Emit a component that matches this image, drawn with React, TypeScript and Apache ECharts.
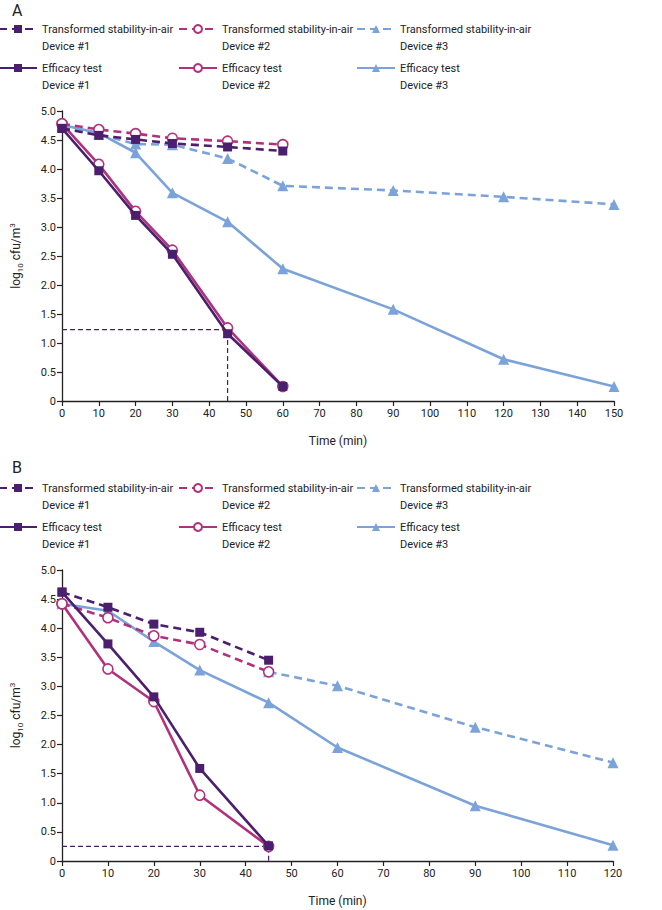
import React, { useEffect, useRef } from "react";
import * as echarts from "echarts";

// ---------- data ----------
const timeA = [0, 10, 20, 30, 45, 60, 90, 120, 150];
const stabA1 = [4.70, 4.58, 4.51, 4.44, 4.38, 4.31];
const stabA2 = [4.78, 4.68, 4.61, 4.53, 4.48, 4.42];
const stabA3 = [4.72, 4.60, 4.43, 4.42, 4.18, 3.71, 3.63, 3.52, 3.39];
const effA1 = [4.70, 3.97, 3.20, 2.53, 1.16, 0.25];
const effA2 = [4.78, 4.08, 3.27, 2.60, 1.26, 0.25];
const effA3 = [4.76, 4.62, 4.28, 3.59, 3.09, 2.28, 1.58, 0.72, 0.25];
const guideA: [number, number][] = [[0, 1.23], [45, 1.23], [45, 0]];

const timeB = [0, 10, 20, 30, 45, 60, 90, 120];
const stabB1 = [4.62, 4.36, 4.07, 3.93, 3.45];
const stabB2 = [4.42, 4.18, 3.87, 3.72, 3.25];
const stabB3: (number | null)[] = [null, null, null, null, 3.25, 3.01, 2.30, 1.69];
const effB1 = [4.62, 3.73, 2.82, 1.59, 0.26];
const effB2 = [4.42, 3.30, 2.74, 1.13, 0.25];
const effB3 = [4.42, 4.30, 3.77, 3.28, 2.72, 1.95, 0.95, 0.27];
const guideB: [number, number][] = [[0, 0.25], [45, 0.25], [45, 0]];

const xMaxA = 150;
const xMaxB = 120;
const yTicks = [0, 0.5, 1, 1.5, 2, 2.5, 3, 3.5, 4, 4.5, 5];

const NAME_S1 = "Transformed stability-in-air\nDevice #1";
const NAME_S2 = "Transformed stability-in-air\nDevice #2";
const NAME_S3 = "Transformed stability-in-air\nDevice #3";
const NAME_E1 = "Efficacy test\nDevice #1";
const NAME_E2 = "Efficacy test\nDevice #2";
const NAME_E3 = "Efficacy test\nDevice #3";

// ---------- styles ----------
const PURPLE = "#4b1f6e";
const MAGENTA = "#b0327a";
const BLUE = "#7ba3d9";
const INK = "#222222";
const FONT = "'Liberation Sans Narrow', Roboto, 'Liberation Sans', sans-serif";

const zip = (xs: number[], ys: (number | null)[]) =>
  ys.map((y, i) => [xs[i], y]).filter((p) => p[1] !== null);

function lineSeries(
  name: string,
  data: any[],
  color: string,
  dashed: boolean,
  symbol: string,
  hollow: boolean,
  gi: number,
  z: number
) {
  return {
    type: "line",
    name,
    xAxisIndex: gi,
    yAxisIndex: gi,
    data,
    z,
    symbol,
    symbolSize: symbol === "triangle" ? 11 : symbol === "circle" ? 10 : 9,
    showSymbol: true,
    lineStyle: { color, width: 2.6, type: dashed ? [8, 5] : "solid" },
    itemStyle: {
      color: hollow ? "#ffffff" : color,
      borderColor: color,
      borderWidth: hollow ? 1.6 : 0,
    },
    emphasis: { disabled: true },
  };
}

function guideSeries(data: any[], gi: number) {
  return {
    type: "line",
    name: "guide" + gi,
    xAxisIndex: gi,
    yAxisIndex: gi,
    data,
    symbol: "none",
    z: 1,
    silent: true,
    lineStyle: { color: PURPLE, width: 1.2, type: [5, 3] },
  };
}

function xAxis(gi: number, max: number) {
  return {
    gridIndex: gi,
    type: "value",
    min: 0,
    max,
    interval: 10,
    name: "Time (min)",
    nameLocation: "middle",
    nameGap: 34,
    nameTextStyle: { color: INK, fontSize: 12, fontFamily: FONT },
    axisLine: { show: true, onZero: false, lineStyle: { color: INK, width: 1.3 } },
    axisTick: { show: true, length: 5, lineStyle: { color: INK, width: 1.2 } },
    axisLabel: { color: INK, fontSize: 11, margin: 7, fontFamily: FONT },
    splitLine: { show: false },
  };
}

function yAxis(gi: number) {
  return {
    gridIndex: gi,
    type: "value",
    min: yTicks[0],
    max: yTicks[yTicks.length - 1],
    interval: 0.5,
    name: "{a|log}{s|10}{a| cfu/m}{p|3}",
    nameLocation: "middle",
    nameGap: 38,
    nameRotate: 90,
    nameTextStyle: {
      color: INK,
      rich: {
        a: { fontSize: 12, lineHeight: 16, color: INK, fontFamily: FONT },
        s: { fontSize: 8, lineHeight: 9, verticalAlign: "bottom", color: INK, fontFamily: FONT },
        p: { fontSize: 8, lineHeight: 9, verticalAlign: "top", color: INK, fontFamily: FONT },
      },
    },
    axisLine: { show: true, lineStyle: { color: INK, width: 1.3 } },
    axisTick: { show: true, length: 5, lineStyle: { color: INK, width: 1.2 } },
    axisLabel: {
      color: INK,
      fontSize: 11,
      margin: 6,
      fontFamily: FONT,
      formatter: (v: number) => (v === 0 ? "0" : v.toFixed(1)),
    },
    splitLine: { show: false },
  };
}

const LH = 17;
function legendItem(name: string, left: number, iconCenter: number) {
  return {
    data: [name],
    left,
    top: iconCenter - (3 * LH) / 2,
    orient: "horizontal",
    itemWidth: 38,
    itemHeight: 10,
    padding: 0,
    selectedMode: false,
    formatter: (n: string) => " \n" + n,
    textStyle: {
      color: INK,
      fontSize: 11,
      lineHeight: LH,
      fontFamily: FONT,
    },
  };
}

function legendsFor(row1: number, row2: number) {
  return [
    legendItem(NAME_S1, -2, row1),
    legendItem(NAME_S2, 178, row1),
    legendItem(NAME_S3, 356, row1),
    legendItem(NAME_E1, -2, row2),
    legendItem(NAME_E2, 178, row2),
    legendItem(NAME_E3, 356, row2),
  ];
}

export default function App() {
  const ref = useRef<HTMLDivElement>(null);
  useEffect(() => {
    if (!ref.current) return;
    const chart = echarts.init(ref.current, undefined, { renderer: "svg" });
    const titleStyle = { fontSize: 16, fontWeight: "normal", color: INK, fontFamily: FONT };
    const option: any = {
      animation: false,
      backgroundColor: "#ffffff",
      textStyle: { fontFamily: FONT },
      title: [
        { text: "A", left: 12, top: 2, padding: 0, textStyle: titleStyle },
        { text: "B", left: 12, top: 459, padding: 0, textStyle: titleStyle },
      ],
      legend: [...legendsFor(29, 68), ...legendsFor(488, 527)],
      grid: [
        { left: 59, top: 111, width: 555, height: 290, containLabel: false },
        { left: 59, top: 570, width: 554, height: 291, containLabel: false },
      ],
      xAxis: [xAxis(0, xMaxA), xAxis(1, xMaxB)],
      yAxis: [yAxis(0), yAxis(1)],
      series: [
        guideSeries(guideA, 0),
        lineSeries(NAME_S3, zip(timeA, stabA3), BLUE, true, "triangle", false, 0, 2),
        lineSeries(NAME_E3, zip(timeA, effA3), BLUE, false, "triangle", false, 0, 2),
        lineSeries(NAME_S2, zip(timeA, stabA2), MAGENTA, true, "circle", true, 0, 3),
        lineSeries(NAME_E2, zip(timeA, effA2), MAGENTA, false, "circle", true, 0, 3),
        lineSeries(NAME_S1, zip(timeA, stabA1), PURPLE, true, "rect", false, 0, 4),
        lineSeries(NAME_E1, zip(timeA, effA1), PURPLE, false, "rect", false, 0, 4),
        guideSeries(guideB, 1),
        lineSeries(NAME_S3, zip(timeB, stabB3), BLUE, true, "triangle", false, 1, 2),
        lineSeries(NAME_E3, zip(timeB, effB3), BLUE, false, "triangle", false, 1, 2),
        lineSeries(NAME_S2, zip(timeB, stabB2), MAGENTA, true, "circle", true, 1, 3),
        lineSeries(NAME_E2, zip(timeB, effB2), MAGENTA, false, "circle", true, 1, 3),
        lineSeries(NAME_S1, zip(timeB, stabB1), PURPLE, true, "rect", false, 1, 4),
        lineSeries(NAME_E1, zip(timeB, effB1), PURPLE, false, "rect", false, 1, 4),
      ],
    };
    chart.setOption(option);
    return () => chart.dispose();
  }, []);
  return (
    <div
      ref={ref}
      style={{ position: "absolute", left: 0, top: 0, width: 662, height: 910, background: "#fff" }}
    />
  );
}
